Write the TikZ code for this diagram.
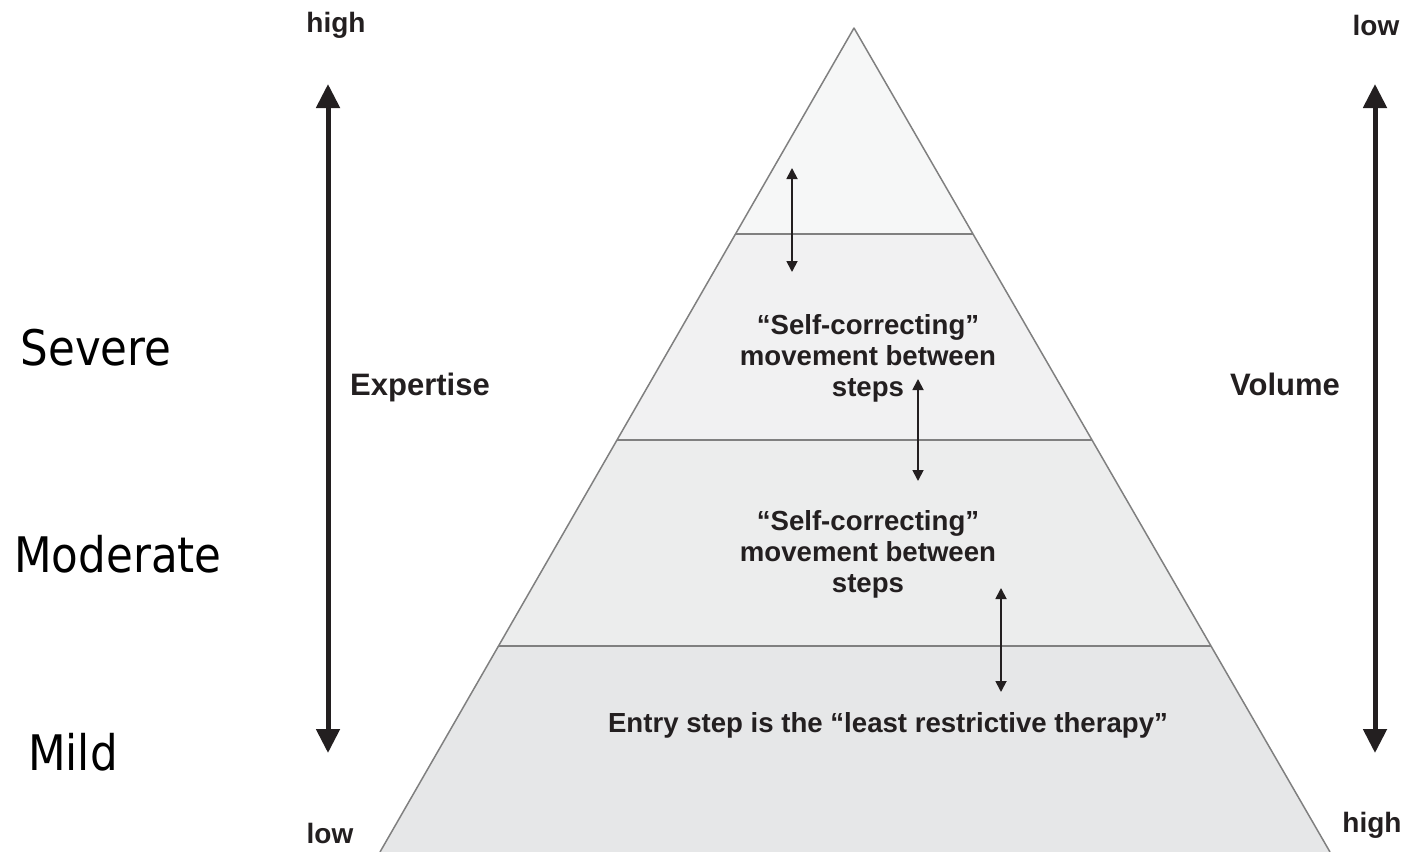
\documentclass[tikz,border=0pt]{standalone}
\usepackage{fontspec}
\setmainfont{Liberation Sans}
\newfontfamily\levelfont{DejaVu Sans}[FakeStretch=0.89]
\usetikzlibrary{arrows.meta,calc}

\definecolor{tierA}{HTML}{F6F7F7}
\definecolor{tierB}{HTML}{F1F1F2}
\definecolor{tierC}{HTML}{ECEDED}
\definecolor{tierD}{HTML}{E6E7E8}
\definecolor{edgegray}{HTML}{808080}
\definecolor{ink}{HTML}{231F20}

\tikzset{
  tier/.style={draw=edgegray, line width=0.75pt, line join=round},
  bigarrow/.style={draw=ink, line width=2.5pt, {Triangle[width=11.5pt,length=12pt]}-{Triangle[width=11.5pt,length=12pt]}},
  smallarrow/.style={draw=ink, line width=0.9pt, {Triangle[width=5.5pt,length=5.5pt]}-{Triangle[width=5.5pt,length=5.5pt]}},
  axislabel/.style={font=\fontsize{15.5pt}{18pt}\selectfont\bfseries, text=ink, inner sep=0pt, anchor=base},
  endlabel/.style={font=\fontsize{14pt}{16pt}\selectfont\bfseries, text=ink, inner sep=0pt, anchor=base},
  steptext/.style={font=\fontsize{13.8pt}{15.5pt}\selectfont\bfseries, text=ink, inner sep=0pt, align=center},
  levellabel/.style={font=\levelfont\fontsize{24.5pt}{28pt}\selectfont, text=black, inner sep=0pt, anchor=base},
}

\begin{document}
\begin{tikzpicture}[x=0.5pt, y=-0.5pt]
\useasboundingbox (0,0) rectangle (1410,852);

% pyramid outline points
\coordinate (apex) at (854,28);
\coordinate (bl) at (380,852);
\coordinate (br) at (1330,852);
\coordinate (l1) at ($(apex)!0.25!(bl)$);
\coordinate (r1) at ($(apex)!0.25!(br)$);
\coordinate (l2) at ($(apex)!0.5!(bl)$);
\coordinate (r2) at ($(apex)!0.5!(br)$);
\coordinate (l3) at ($(apex)!0.75!(bl)$);
\coordinate (r3) at ($(apex)!0.75!(br)$);

% four tiers, bottom first
\fill[tierD] (l3) -- (r3) -- (br) -- (bl) -- cycle;
\fill[tierC] (l2) -- (r2) -- (r3) -- (l3) -- cycle;
\fill[tierB] (l1) -- (r1) -- (r2) -- (l2) -- cycle;
\fill[tierA] (apex) -- (r1) -- (l1) -- cycle;
\draw[tier] (bl) -- (apex) -- (br);
\draw[tier] (l1) -- (r1);
\draw[tier] (l2) -- (r2);
\draw[tier] (l3) -- (r3);

% movement between steps
\coordinate (m1a) at (792,168);
\coordinate (m1b) at (792,272);
\coordinate (m2a) at (918,379);
\coordinate (m2b) at (918,481);
\coordinate (m3a) at (1001,588);
\coordinate (m3b) at (1001,692);
\draw[smallarrow] (m1a) -- (m1b);
\draw[smallarrow] (m2a) -- (m2b);
\draw[smallarrow] (m3a) -- (m3b);

\node[steptext] (self1) at (868,358) {“Self-correcting”\\movement between\\steps};
\node[steptext] (self2) at (868,554) {“Self-correcting”\\movement between\\steps};
\node[steptext, anchor=base] (entry) at (888,732) {Entry step is the “least restrictive therapy”};

% expertise axis
\coordinate (ea) at (328,84);
\coordinate (eb) at (328,753);
\draw[bigarrow] (ea) -- (eb);
\node[axislabel] (expertise) at (420,395) {Expertise};
\node[endlabel] (ehigh) at (336,32) {high};
\node[endlabel] (elow) at (330,843) {low};

% volume axis
\coordinate (va) at (1375,84);
\coordinate (vb) at (1375,753);
\draw[bigarrow] (va) -- (vb);
\node[axislabel] (volume) at (1285,395) {Volume};
\node[endlabel] (vlow) at (1376,35) {low};
\node[endlabel] (vhigh) at (1372,832) {high};

% severity levels
\node[levellabel] (severe) at (96,365) {Severe};
\node[levellabel] (moderate) at (118,572) {Moderate};
\node[levellabel] (mild) at (73,770) {Mild};
\end{tikzpicture}
\end{document}
